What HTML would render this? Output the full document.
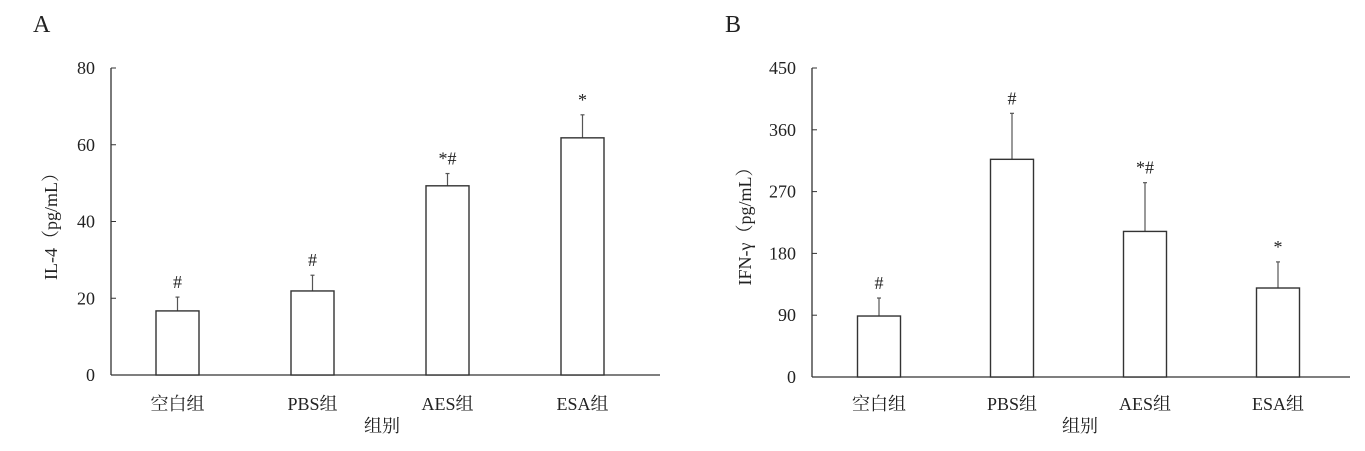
<!DOCTYPE html>
<html><head><meta charset="utf-8"><style>
body{margin:0;background:#fff}
svg text{font-family:"Liberation Serif","Noto Serif CJK SC",serif;fill:#222}
</style></head><body>
<svg id="svg" width="1365" height="446" xmlns="http://www.w3.org/2000/svg"></svg>
<script>
const categories=["空白组","PBS组","AES组","ESA组"];
const il4Values=[16.7,21.9,49.3,61.8];
const il4Err=[3.6,4.1,3.2,6.0];
const il4Marks=["#","#","*#","*"];
const il4Ticks=[0,20,40,60,80];
const ifnValues=[88.8,317,212,129.6];
const ifnErr=[26.2,67,71,38];
const ifnMarks=["#","#","*#","*"];
const ifnTicks=[0,90,180,270,360,450];
const NS="http://www.w3.org/2000/svg";
const svg=document.getElementById('svg');
function mk(tag,attrs,parent){const e=document.createElementNS(NS,tag);for(const k in attrs)e.setAttribute(k,attrs[k]);(parent||svg).appendChild(e);return e;}
function chart(p){
  const g=mk('g',{});
  
  
  const y=v=>p.y0-(v/p.max)*(p.y0-p.y1);
  const x=i=>p.cx0+i*p.step;
  const pl=mk('text',{x:p.lx,y:32,'font-size':24},g);pl.textContent=p.letter;
  
  const ya=mk('line',{x1:p.ax,y1:p.y1,x2:p.ax,y2:p.y0,stroke:'#333','stroke-width':1.3},g);
  
  const xa=mk('line',{x1:p.ax,y1:p.y0,x2:p.xend,y2:p.y0,stroke:'#333','stroke-width':1.3},g);
  
  p.ticks.forEach(t=>{
    mk('line',{x1:p.ax,y1:y(t),x2:p.ax+5,y2:y(t),stroke:'#333','stroke-width':1},g);
    const tt=mk('text',{x:p.ax-16,y:y(t)+6,'font-size':18,'text-anchor':'end'},g);tt.textContent=t;
    
  });
  p.vals.forEach((v,i)=>{
    const cx=x(i);
    mk('line',{x1:cx,y1:y(v),x2:cx,y2:y(v+p.err[i]),stroke:'#555','stroke-width':1.2},g);
    mk('line',{x1:cx-2,y1:y(v+p.err[i]),x2:cx+2,y2:y(v+p.err[i]),stroke:'#555','stroke-width':1.2},g);
    const b=mk('rect',{x:cx-21.5,y:y(v),width:43,height:p.y0-y(v),fill:'#fff',stroke:'#333','stroke-width':1.4},g);
    
    const m=mk('text',{x:cx,y:y(v+p.err[i])-9,'font-size':18,'text-anchor':'middle'},g);m.textContent=p.marks[i];
    
    const c=mk('text',{x:cx,y:410,'font-size':18,'text-anchor':'middle'},g);c.textContent=categories[i];
    
  });
  const xt=mk('text',{x:p.xtx,y:432,'font-size':18,'text-anchor':'middle'},g);xt.textContent='组别';
  
  const yt=mk('text',{x:0,y:0,'font-size':18,'text-anchor':'middle',transform:`translate(${p.ytx},222) rotate(-90)`},g);yt.textContent=p.ytitle;
  
}
chart({name:'il4-chart',letter:'A',lx:33,ax:111,xend:660,y0:375,y1:68,max:80,cx0:177.5,step:135,ticks:il4Ticks,vals:il4Values,err:il4Err,marks:il4Marks,xtx:382,ytx:57,ytitle:'IL-4（pg/mL）'});
chart({name:'ifn-chart',letter:'B',lx:725,ax:812,xend:1350,y0:377,y1:68,max:450,cx0:879,step:133,ticks:ifnTicks,vals:ifnValues,err:ifnErr,marks:ifnMarks,xtx:1080,ytx:751,ytitle:'IFN-γ（pg/mL）'});
</script>
</body></html>
